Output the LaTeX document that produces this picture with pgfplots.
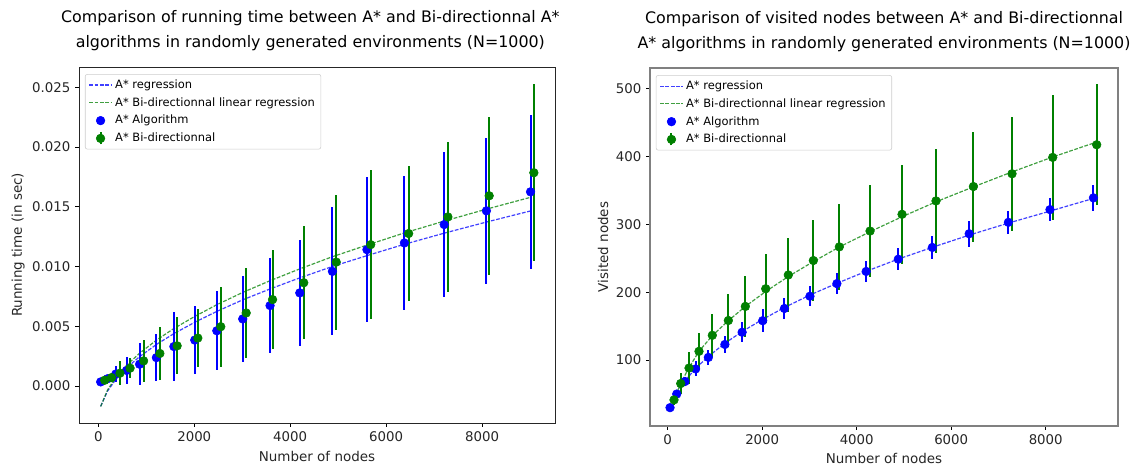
\documentclass[border=0pt]{standalone}
\usepackage{pgfplots}
\usepackage{pgfplotstable}
\pgfplotsset{compat=1.18}
\usepackage{fontspec}
\setmainfont{DejaVu Sans}
\definecolor{mplblue}{RGB}{0,0,255}
\definecolor{mplgreen}{RGB}{0,128,0}

% running time: x, mean, error
\pgfplotstableread{
x y e
49 0.00034 0.0001
190 0.0006 0.0003
365 0.0010 0.0007
590 0.0013 0.0011
860 0.00182 0.00175
1210 0.00237 0.00195
1575 0.0033 0.0029
2010 0.00384 0.00285
2470 0.00462 0.0033
3010 0.00561 0.0036
3580 0.00673 0.00395
4200 0.00779 0.00445
4880 0.00959 0.00535
5600 0.01141 0.00605
6380 0.01197 0.0056
7210 0.01351 0.0061
8090 0.01466 0.0061
9010 0.01625 0.00645
}\timeastar
\pgfplotstableread{
x y e
133 0.00048 0.0002
275 0.0007 0.0004
451 0.00107 0.001
662 0.00149 0.00085
944 0.0021 0.00175
1283 0.00272 0.0022
1643 0.00336 0.0024
2074 0.00401 0.00245
2552 0.00496 0.00335
3082 0.00611 0.00375
3632 0.00723 0.00415
4282 0.00864 0.00475
4959 0.01037 0.00565
5678 0.01183 0.00625
6469 0.01276 0.00565
7287 0.01415 0.00625
8148 0.01592 0.0066
9079 0.01785 0.0074
}\timebidir
% regression curves (x, blue fit, green fit)
\pgfplotstableread{
x b g
49 -0.00170 -0.00172
190 -0.00044 -0.00035
365 0.00055 0.00071
590 0.00152 0.00174
860 0.00245 0.00274
1210 0.00347 0.00383
1575 0.00438 0.00481
2010 0.00533 0.00582
2470 0.00624 0.00680
3010 0.00721 0.00783
3580 0.00812 0.00881
4200 0.00905 0.00980
4880 0.01000 0.01082
5600 0.01091 0.01179
6380 0.01186 0.01281
7210 0.01279 0.01380
8090 0.01372 0.01480
9010 0.01465 0.01579
}\timereg

% visited nodes
\pgfplotstableread{
x y e r
49 30 3 30
190 50 5 50.7
365 68.5 7 69.4
590 87 11 87.8
860 104 11 105.4
1210 123 12 124.8
1575 141 15 142
2010 158 17 160
2470 176 15 177.4
3010 194 14.5 195.8
3580 212.6 16 213
4200 230.5 15.5 230.7
4880 248.5 16 248.7
5600 265.8 17 266
6380 286 19 284
7210 302.8 17 301.7
8090 321.5 17 319.3
9010 338.8 19.6 338
}\visastar
\pgfplotstableread{
x y e r
133 41.4 8 41.4
275 65.5 16 66
451 88.3 23 89
662 112.9 27.6 113
944 136.5 32 136
1283 158.3 39.5 158
1643 179 45 179
2074 205 51 201
2552 225.3 55 223
3082 246.6 59 245
3632 266.7 63 266.5
4282 290 67.5 289
4959 314.6 73 311
5678 334.3 77 333
6469 355.5 81 355
7287 374.3 84 377
8148 398.4 92 399
9079 417 89 421
}\visbidir

\pgfplotsset{
  pane/.style={
    scale only axis,
    tick align=outside,
    tick pos=left,
    major tick length=3pt,
    tick style={black, line width=0.6pt},
    ticklabel style={font=\fontsize{10}{11}\selectfont, text=black!85},
    label style={font=\fontsize{10.1}{11}\selectfont, text=black!85},
    /pgf/number format/assume math mode=true,
    /pgf/number format/1000 sep={},
    title style={font=\fontsize{11.9}{18.75}\selectfont, align=center,
      at={(0.5,1)}, anchor=south, yshift=2.5pt},
    legend cell align=left,
    legend style={at={(0.0126,0.98)}, anchor=north west,
      font=\fontsize{8.6}{9}\selectfont, draw=black!20, fill=white,
      rounded corners=1.5pt, inner xsep=2.5pt, inner ysep=2pt, row sep=1.3pt},
  },
  reg/.style={dash pattern=on 2.8pt off 1.2pt, line width=0.9pt, opacity=0.75, mark=none},
  pts/.style={only marks, mark=*, mark size=3.25pt,
    error bars/y dir=both, error bars/y explicit, error bars/error mark=none,
    error bars/error bar style={line width=1.5pt}},
  barleg/.style={legend image code/.code={
    \draw[#1, line width=1.5pt] (0.3cm,-4.5pt) -- (0.3cm,4.5pt);
    \fill[#1] (0.3cm,0cm) circle (3.25pt);}},
}

\begin{document}
\begin{tikzpicture}
\useasboundingbox (0,0) rectangle (849pt,349.5pt);

\begin{axis}[
  pane,
  at={(59.25pt,32.25pt)}, anchor=south west,
  width=357pt, height=267pt,
  xmin=-403, xmax=9520,
  ymin=-0.0031, ymax=0.0267,
  xtick={0,2000,4000,6000,8000},
  ytick={0,0.005,0.01,0.015,0.02,0.025},
  scaled y ticks=false,
  yticklabel style={/pgf/number format/.cd, fixed, fixed zerofill, precision=3},
  axis line style={black!85, line width=0.6pt},
  title={Comparison of running time between A* and Bi-directionnal A*\\algorithms in randomly generated environments (N=1000)},
  title style={xshift=-5pt},
  xlabel={Number of nodes},
  ylabel={Running time (in sec)},
  xlabel style={at={(axis description cs:0.5,-0.093)}, anchor=center},
  ylabel style={at={(axis description cs:-0.128,0.5)}, anchor=center},
]
\addplot[reg, mplblue] table[x=x, y=b] {\timereg};
\addlegendentry{A* regression}
\addplot[reg, mplgreen] table[x=x, y=g] {\timereg};
\addlegendentry{A* Bi-directionnal linear regression}
\addplot[pts, mplblue] table[x=x, y=y, y error=e] {\timeastar};
\addlegendentry{A* Algorithm}
\addplot[pts, mplgreen, barleg=mplgreen] table[x=x, y=y, y error=e] {\timebidir};
\addlegendentry{A* Bi-directionnal}
\end{axis}

\begin{axis}[
  pane,
  at={(487.5pt,30pt)}, anchor=south west,
  width=351pt, height=268.5pt,
  xmin=-375, xmax=9530,
  ymin=3, ymax=530,
  xtick={0,2000,4000,6000,8000},
  ytick={100,200,300,400,500},
  axis line style={black!50, line width=1pt},
  title={Comparison of visited nodes between A* and Bi-directionnal\\A* algorithms in randomly generated environments (N=1000)},
  xlabel={Number of nodes},
  ylabel={Visited nodes},
  xlabel style={at={(axis description cs:0.5,-0.092)}, anchor=center},
  ylabel style={at={(axis description cs:-0.100,0.5)}, anchor=center},
]
\addplot[reg, mplblue] table[x=x, y=r] {\visastar};
\addlegendentry{A* regression}
\addplot[reg, mplgreen] table[x=x, y=r] {\visbidir};
\addlegendentry{A* Bi-directionnal linear regression}
\addplot[pts, mplblue] table[x=x, y=y, y error=e] {\visastar};
\addlegendentry{A* Algorithm}
\addplot[pts, mplgreen, barleg=mplgreen] table[x=x, y=y, y error=e] {\visbidir};
\addlegendentry{A* Bi-directionnal}
\end{axis}
\end{tikzpicture}
\end{document}
